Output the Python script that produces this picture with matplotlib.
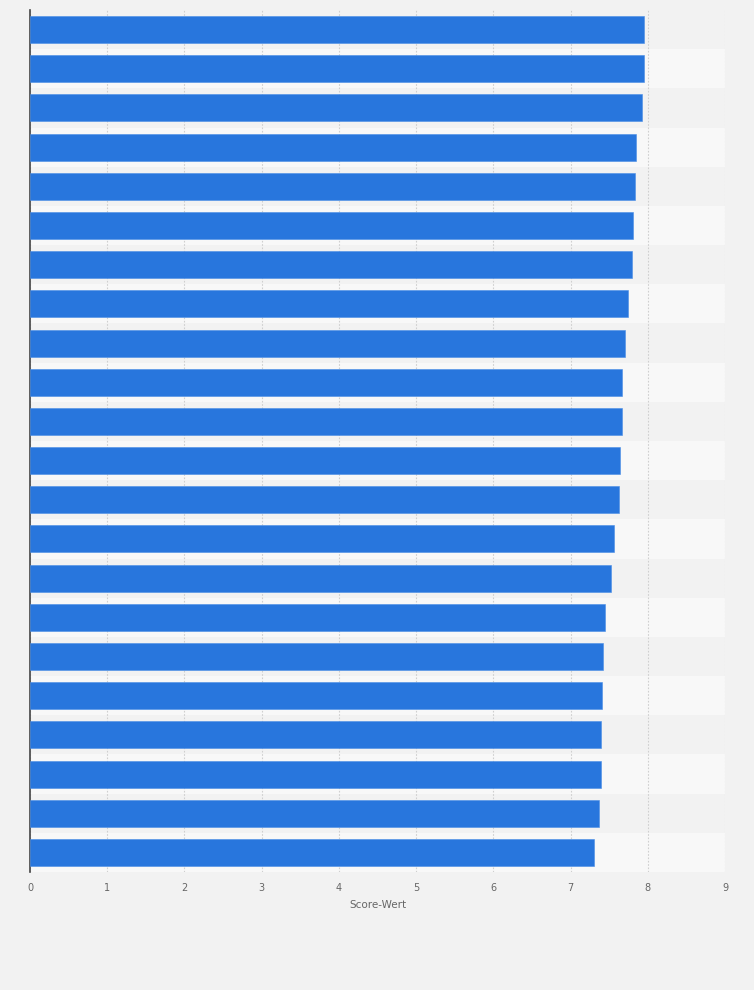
import matplotlib
matplotlib.use("Agg")
import matplotlib.pyplot as plt
import numpy as np

categories = [f"Rang {i}" for i in range(1, 23)]
scores = [7.95, 7.95, 7.93, 7.85, 7.84, 7.81, 7.79, 7.75, 7.71, 7.66, 7.66,
          7.64, 7.63, 7.56, 7.52, 7.44, 7.42, 7.41, 7.39, 7.39, 7.37, 7.30]
x_ticks = [0, 1, 2, 3, 4, 5, 6, 7, 8, 9]
x_label = "Score-Wert"

fig = plt.figure(figsize=(7.54, 9.90), dpi=100, facecolor="#f2f2f2")
ax = fig.add_axes([30/754, 1 - 872/990, 695/754, 862/990])
ax.set_facecolor("#f2f2f2")

n = len(categories)
y = np.arange(n)
# alternating bands
for i in range(n):
    ax.axhspan(i - 0.5, i + 0.5, color="#f2f2f2" if i % 2 == 0 else "#f8f8f8", zorder=0, lw=0)

ax.barh(y, scores, height=0.69, color="#2876dd", edgecolor="#4a8ee6", linewidth=0.4, zorder=3)

ax.set_xlim(0, 9)
ax.set_ylim(n - 0.5, -0.5)
ax.set_xticks(x_ticks)
ax.set_xticklabels([str(t) for t in x_ticks])
ax.set_yticks([])
ax.grid(axis="x", color="#cfcfcf", linestyle=(0, (1.5, 1.5)), linewidth=0.8, zorder=1)
ax.set_axisbelow(True)

for s in ["top", "right", "bottom"]:
    ax.spines[s].set_visible(False)
ax.spines["left"].set_color("#444444")
ax.spines["left"].set_linewidth(1.2)

ax.tick_params(axis="x", length=0, pad=8, labelsize=7, labelcolor="#666666")
ax.set_xlabel(x_label, fontsize=7.5, color="#666666", labelpad=5)

fig.savefig("out.png", dpi=100, facecolor=fig.get_facecolor())
